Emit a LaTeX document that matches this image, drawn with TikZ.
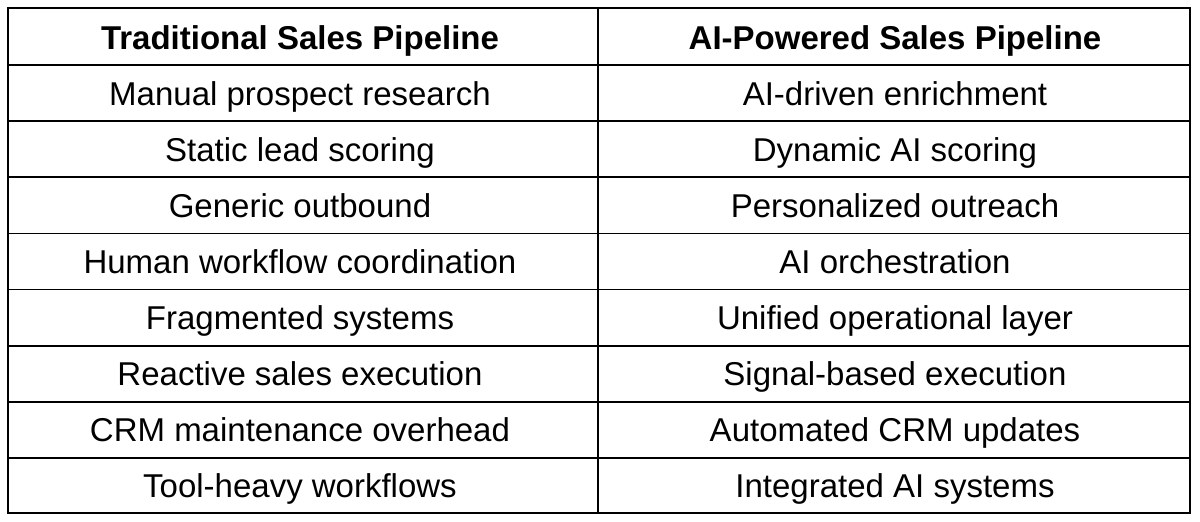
\documentclass[tikz,border=0pt]{standalone}
\usepackage{fontspec}
\setmainfont{Liberation Sans}
\begin{document}
\begin{tikzpicture}[x=1pt,y=-1pt,
  cell/.style={font=\fontsize{33}{38}\selectfont,anchor=base,inner sep=0pt},
  hcell/.style={cell,font=\fontsize{33}{38}\selectfont\bfseries},
  grid/.style={line width=1.8pt,black}]
\fill[white] (0,0) rectangle (1200,522);
\useasboundingbox (0,0) rectangle (1200,522);
\def\colL{300}\def\colR{895}
\node[hcell] (h1) at (\colL,49) {Traditional Sales Pipeline};
\node[hcell] (h2) at (\colR,49) {AI-Powered Sales Pipeline};
\foreach \i/\a/\b in {1/Manual prospect research/AI-driven enrichment,
 2/Static lead scoring/Dynamic AI scoring,
 3/Generic outbound/Personalized outreach,
 4/Human workflow coordination/AI orchestration,
 5/Fragmented systems/Unified operational layer,
 6/Reactive sales execution/Signal-based execution,
 7/CRM maintenance overhead/Automated CRM updates,
 8/Tool-heavy workflows/Integrated AI systems}{
  \node[cell] (l\i) at (\colL,{49+\i*56.1}) {\a};
  \node[cell] (r\i) at (\colR,{49+\i*56.1}) {\b};
}
\draw[grid] (8,8) rectangle (1190,513);
\draw[grid] (598,8) -- (598,513);
\foreach \i in {1,...,8}{\draw[grid] (8,{8+\i*56.1+1}) -- (1190,{8+\i*56.1+1});}
\end{tikzpicture}
\end{document}
